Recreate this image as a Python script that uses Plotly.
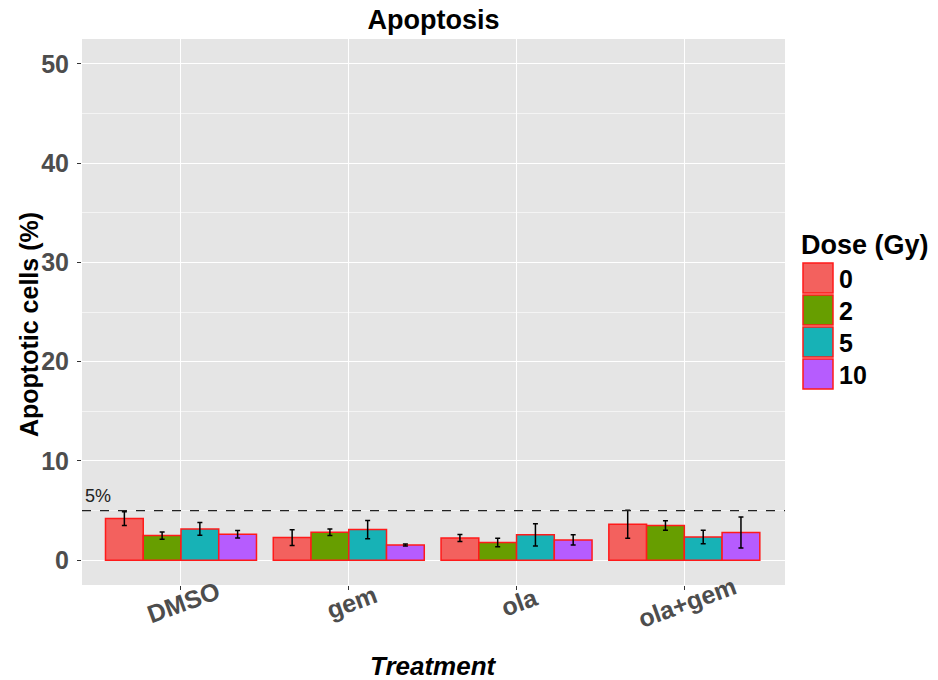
import plotly.graph_objects as go

# Treatments on the x axis and radiation doses (Gy) as the grouped series
treatments = ["DMSO", "gem", "ola", "ola+gem"]
doses = ["0", "2", "5", "10"]

# Mean percentage of apoptotic cells per dose, in treatment order
apop_0 = [4.19, 2.28, 2.24, 3.62]
apop_2 = [2.48, 2.81, 1.78, 3.49]
apop_5 = [3.15, 3.08, 2.55, 2.34]
apop_10 = [2.61, 1.54, 2.04, 2.78]

# Error bar half-widths
err_0 = [0.70, 0.79, 0.35, 1.42]
err_2 = [0.37, 0.33, 0.42, 0.47]
err_5 = [0.65, 0.92, 1.12, 0.68]
err_10 = [0.37, 0.10, 0.52, 1.56]

threshold = 5

means = [apop_0, apop_2, apop_5, apop_10]
errs = [err_0, err_2, err_5, err_10]
colors = ["#F3615E", "#679E00", "#17B2B6", "#B65CFE"]
outline = "#FF1A1A"
FONT = "Liberation Sans, Arial, sans-serif"

# Panel geometry in pixels (used to place legend and titles in paper units)
W, H = 938, 680
PL, PR, PT, PB = 82, 785, 39, 585


def px_x(x):
    return (x - PL) / (PR - PL)


def px_y(y):
    return (PB - y) / (PB - PT)


fig = go.Figure()
for dose, m, e, c in zip(doses, means, errs, colors):
    fig.add_trace(go.Bar(
        x=treatments, y=m, name=dose,
        marker=dict(color=c, line=dict(color=outline, width=1.5)),
        error_y=dict(type="data", array=e, color="black", thickness=1.5, width=2.5),
        showlegend=False,
    ))

# Dashed reference line at 5%
fig.add_shape(type="line", xref="paper", yref="y", x0=0, x1=1, y0=threshold, y1=threshold,
              line=dict(color="#222222", width=1.3, dash="dash"))
fig.add_annotation(xref="paper", yref="y", x=px_x(83), y=threshold, text="5%", showarrow=False,
                   xanchor="left", yanchor="bottom", yshift=3,
                   font=dict(family=FONT, size=18, color="#222222"))

# Rotated category labels centred under each tick
for t in treatments:
    fig.add_annotation(xref="x", yref="paper", x=t, y=px_y(602), text="<b>%s</b>" % t,
                       showarrow=False, textangle=-20, xanchor="center", yanchor="middle",
                       xshift=3, font=dict(family=FONT, size=25, color="#4D4D4D"))

# Axis titles
fig.add_annotation(xref="paper", yref="paper", x=0.5, y=px_y(666),
                   text="<b><i>Treatment</i></b>", showarrow=False,
                   xanchor="center", yanchor="middle",
                   font=dict(family=FONT, size=26, color="black"))
fig.add_annotation(xref="paper", yref="paper", x=px_x(29), y=px_y(325),
                   text="<b>Apoptotic cells (%)</b>", showarrow=False, textangle=-90,
                   xanchor="center", yanchor="middle",
                   font=dict(family=FONT, size=25, color="black"))

# Legend drawn as boxes and labels
fig.add_annotation(xref="paper", yref="paper", x=px_x(799), y=px_y(245),
                   text="<b>Dose (Gy)</b>", showarrow=False, xanchor="left", yanchor="middle",
                   font=dict(family=FONT, size=27, color="black"))
for i, (dose, c) in enumerate(zip(doses, colors)):
    top_px = 262 + i * 32
    fig.add_shape(type="rect", xref="paper", yref="paper",
                  x0=px_x(803), x1=px_x(833), y0=px_y(top_px + 31), y1=px_y(top_px + 1),
                  fillcolor=c, line=dict(color=outline, width=1.5))
    fig.add_annotation(xref="paper", yref="paper", x=px_x(837), y=px_y(top_px + 17),
                       text="<b>%s</b>" % dose, showarrow=False, xanchor="left", yanchor="middle",
                       font=dict(family=FONT, size=25, color="black"))

fig.update_layout(
    width=W, height=H,
    margin=dict(l=PL, r=W - PR, t=PT, b=H - PB, autoexpand=False),
    paper_bgcolor="white",
    plot_bgcolor="#E5E5E5",
    barmode="group", bargap=0.1, bargroupgap=0,
    title=dict(text="<b>Apoptosis</b>", x=(PL + PR) / 2 / W, xanchor="center",
               y=1 - 20 / H, yanchor="middle",
               font=dict(family=FONT, size=27, color="black")),
    xaxis=dict(
        range=[-0.59, 3.6], showticklabels=False, automargin=False,
        showgrid=True, gridcolor="white", gridwidth=1.4,
        ticks="outside", ticklen=4, tickcolor="#333333", zeroline=False,
    ),
    yaxis=dict(
        range=[-2.5, 52.5], tickvals=[0, 10, 20, 30, 40, 50], automargin=False,
        tickfont=dict(family=FONT, size=25, color="#4D4D4D", weight="bold"),
        showgrid=True, gridcolor="white", gridwidth=1.4,
        minor=dict(tickvals=[5, 15, 25, 35, 45], showgrid=True, gridcolor="#F4F4F4",
                   gridwidth=0.7, ticks=""),
        ticks="outside", ticklen=4, tickcolor="#333333", zeroline=False,
        ticklabelstandoff=3,
    ),
)

fig.write_html("out.html")
